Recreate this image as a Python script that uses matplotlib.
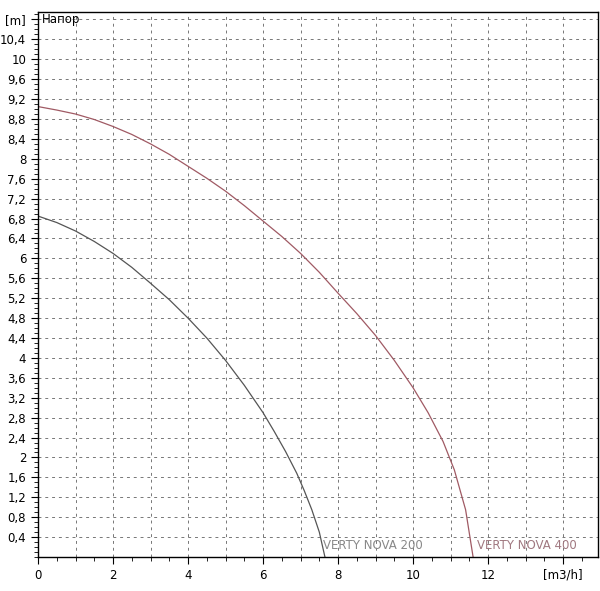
import matplotlib
matplotlib.use("Agg")
import matplotlib.pyplot as plt
from matplotlib.ticker import MultipleLocator

q200 = [0, 0.5, 1, 1.5, 2, 2.5, 3, 3.5, 4, 4.5, 5, 5.5, 6, 6.3, 6.6, 6.9, 7.1, 7.3, 7.5, 7.65]
h200 = [6.85, 6.72, 6.55, 6.34, 6.1, 5.82, 5.5, 5.17, 4.8, 4.4, 3.95, 3.45, 2.9, 2.52, 2.12, 1.68, 1.33, 0.95, 0.5, 0.0]
q400 = [0, 0.5, 1, 1.5, 2, 2.5, 3, 3.5, 4, 4.5, 5, 5.5, 6, 6.5, 7, 7.5, 8, 8.5, 9, 9.5, 10, 10.4, 10.8, 11.1, 11.4, 11.6]
h400 = [9.05, 8.98, 8.9, 8.79, 8.65, 8.49, 8.3, 8.09, 7.85, 7.61, 7.35, 7.06, 6.75, 6.44, 6.1, 5.72, 5.3, 4.89, 4.45, 3.95, 3.4, 2.9, 2.32, 1.75, 0.95, 0.0]
yticks = [round(0.4 * i, 1) for i in range(1, 27)]
ylabels = [f"{v:g}".replace(".", ",") for v in yticks]

fig = plt.figure(figsize=(6.0, 5.91), dpi=100)
ax = fig.add_axes([38/600, 1-557/591, 560/600, 545/591])
ax.set_xlim(0, 14.93)
ax.set_ylim(0, 10.95)
for x in range(1, 15):
    ax.axvline(x, color="#777777", ls=(0, (3, 4)), lw=0.7)
for y in yticks + [10.8]:
    ax.axhline(y, color="#777777", ls=(0, (3, 4)), lw=0.7)
ax.plot(q200, h200, color="#555555", lw=0.9)
ax.plot(q400, h400, color="#a05a64", lw=0.9)
ax.set_xticks([0, 2, 4, 6, 8, 10, 12, 14])
ax.set_xticklabels(["0", "2", "4", "6", "8", "10", "12", "[m3/h]"])
ax.xaxis.set_minor_locator(MultipleLocator(0.5))
ax.set_yticks(yticks + [10.8])
ax.set_yticklabels(ylabels + ["[m]"])
ax.yaxis.set_minor_locator(MultipleLocator(0.1))
ax.tick_params(labelsize=8.5, direction="out", length=5, width=0.8)
ax.tick_params(which="minor", length=3, width=0.6)
for s in ax.spines.values():
    s.set_linewidth(1.0)
ax.text(0.1, 10.8, "Напор", fontsize=8.5, va="center", ha="left")
ax.text(7.6, 0.1, "VERTY NOVA 200", fontsize=8.5, color="#888888", ha="left", va="bottom")
ax.text(11.7, 0.1, "VERTY NOVA 400", fontsize=8.5, color="#a07880", ha="left", va="bottom")
fig.savefig("out.png", dpi=100)
